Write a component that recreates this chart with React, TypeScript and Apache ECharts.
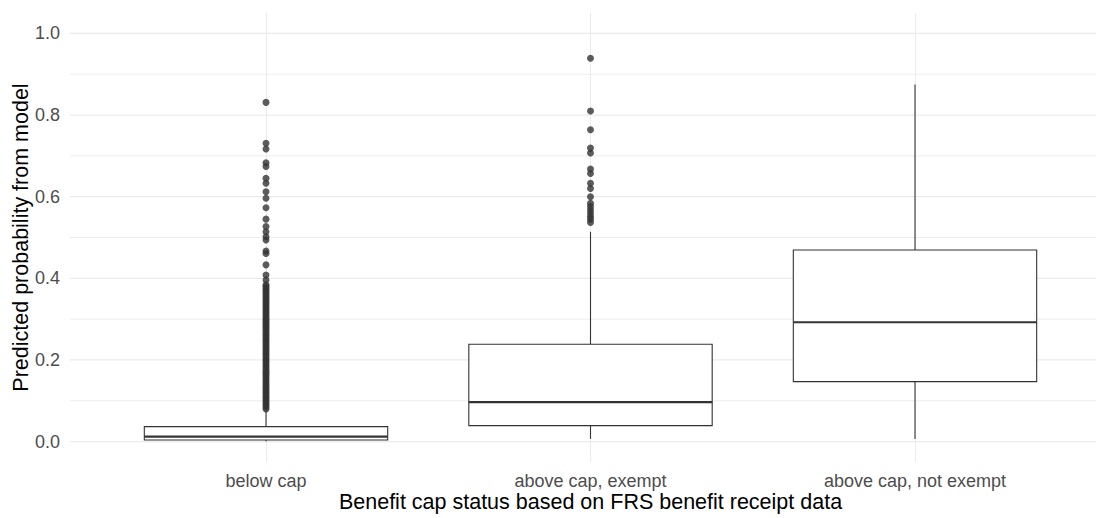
import React, { useEffect, useRef } from "react";
import * as echarts from "echarts";

const CATEGORIES = ["below cap", "above cap, exempt", "above cap, not exempt"];
const WHISKER_LOW = [0.001, 0.0066, 0.0066];
const Q1 = [0.004, 0.039, 0.147];
const MEDIAN = [0.012, 0.0965, 0.2924];
const Q3 = [0.0367, 0.2386, 0.4695];
const WHISKER_HIGH = [0.078, 0.514, 0.875];

const OUTLIERS_BELOW_CAP = [
  0.08, 0.085, 0.09, 0.095, 0.1, 0.105, 0.11, 0.115, 0.12, 0.125, 0.13, 0.135,
  0.14, 0.145, 0.15, 0.155, 0.16, 0.165, 0.17, 0.175, 0.18, 0.185, 0.19, 0.195,
  0.2, 0.205, 0.21, 0.215, 0.22, 0.225, 0.23, 0.235, 0.24, 0.245, 0.25, 0.255,
  0.26, 0.265, 0.27, 0.275, 0.28, 0.285, 0.29, 0.295, 0.3, 0.305, 0.31, 0.315,
  0.32, 0.325, 0.33, 0.335, 0.34, 0.345, 0.35, 0.355, 0.36, 0.365, 0.37, 0.375,
  0.38, 0.384, 0.396, 0.408, 0.433, 0.461, 0.467, 0.494, 0.502, 0.514, 0.527,
  0.545, 0.573, 0.596, 0.612, 0.633, 0.645, 0.674, 0.683, 0.717, 0.731, 0.831,
];
const OUTLIERS_EXEMPT = [
  0.537, 0.545, 0.552, 0.56, 0.568, 0.576, 0.584, 0.6, 0.62, 0.633, 0.657, 0.668,
  0.707, 0.719, 0.764, 0.81, 0.939,
];
const OUTLIERS_NOT_EXEMPT: number[] = [];

const Y_MIN = -0.05;
const Y_MAX = 1.05;
const Y_MAJOR = [0, 0.2, 0.4, 0.6, 0.8, 1.0];
const Y_MINOR = [0.1, 0.3, 0.5, 0.7, 0.9];

export default function App() {
  const ref = useRef<HTMLDivElement>(null);

  useEffect(() => {
    if (!ref.current) return;
    const chart = echarts.init(ref.current, null, { renderer: "svg" });

    const boxData = CATEGORIES.map((_, i) => [
      i,
      WHISKER_LOW[i],
      Q1[i],
      MEDIAN[i],
      Q3[i],
      WHISKER_HIGH[i],
    ]);
    const outlierData = [
      ...OUTLIERS_BELOW_CAP.map((v) => [0, v]),
      ...OUTLIERS_EXEMPT.map((v) => [1, v]),
      ...OUTLIERS_NOT_EXEMPT.map((v) => [2, v]),
    ];
    const gridLineData = [
      ...Y_MAJOR.map((v) => [0, v, 1]),
      ...Y_MINOR.map((v) => [0, v, 0]),
    ];

    const option: any = {
      animation: false,
      backgroundColor: "#ffffff",
      textStyle: { fontFamily: "'Liberation Sans', Arial, sans-serif" },
      grid: [
        { left: 70, right: 0, top: 13, height: 449, outerBoundsMode: "none" },
        { left: 266, right: 181, top: 13, height: 449, outerBoundsMode: "none" },
      ],
      xAxis: [
        { type: "value", gridIndex: 0, min: 0, max: 1, show: false },
        {
          type: "category",
          gridIndex: 1,
          data: CATEGORIES,
          boundaryGap: false,
          axisLine: { show: false },
          axisTick: { show: false },
          axisLabel: { color: "#4D4D4D", fontSize: 18, lineHeight: 18, margin: 10 },
          splitLine: { show: true, lineStyle: { color: "#EBEBEB", width: 1 } },
          name: "Benefit cap status based on FRS benefit receipt data",
          nameLocation: "middle",
          nameGap: 29,
          nameMoveOverlap: false,
          nameTextStyle: { color: "#000000", fontSize: 21.5, lineHeight: 22 },
        },
      ],
      yAxis: [
        {
          type: "value",
          gridIndex: 0,
          min: Y_MIN,
          max: Y_MAX,
          axisLine: { show: false },
          axisTick: { show: false },
          splitLine: { show: false },
          axisLabel: {
            customValues: Y_MAJOR,
            formatter: (v: number) => v.toFixed(1),
            color: "#4D4D4D",
            fontSize: 18,
            margin: 10,
          },
          name: "Predicted probability from model",
          nameLocation: "middle",
          nameGap: 38,
          nameRotate: 90,
          nameMoveOverlap: false,
          nameTextStyle: { color: "#000000", fontSize: 21.5 },
        },
        {
          type: "value",
          gridIndex: 1,
          min: Y_MIN,
          max: Y_MAX,
          show: false,
          splitLine: { show: false },
        },
      ],
      series: [
        {
          type: "custom",
          xAxisIndex: 0,
          yAxisIndex: 0,
          z: 0,
          silent: true,
          data: gridLineData,
          encode: { x: 0, y: 1 },
          renderItem: (params: any, api: any) => {
            const v = api.value(1);
            const p1 = api.coord([0, v]);
            const p2 = api.coord([1, v]);
            return {
              type: "line",
              shape: { x1: p1[0], y1: p1[1], x2: p2[0] + 20, y2: p2[1] },
              style: { stroke: "#EBEBEB", lineWidth: api.value(2) ? 1.2 : 0.9 },
            };
          },
        },
        {
          type: "custom",
          xAxisIndex: 1,
          yAxisIndex: 1,
          z: 3,
          data: boxData,
          encode: { x: 0, y: [1, 2, 3, 4, 5] },
          renderItem: (params: any, api: any) => {
            const i = api.value(0);
            const low = api.coord([i, api.value(1)]);
            const q1 = api.coord([i, api.value(2)]);
            const med = api.coord([i, api.value(3)]);
            const q3 = api.coord([i, api.value(4)]);
            const high = api.coord([i, api.value(5)]);
            const bw = api.size([1, 0])[0] * 0.75;
            const x = low[0];
            const lineStyle = { stroke: "#333333", lineWidth: 1.1 };
            return {
              type: "group",
              children: [
                { type: "line", shape: { x1: x, y1: high[1], x2: x, y2: q3[1] }, style: lineStyle },
                { type: "line", shape: { x1: x, y1: q1[1], x2: x, y2: low[1] }, style: lineStyle },
                {
                  type: "rect",
                  shape: { x: x - bw / 2, y: q3[1], width: bw, height: q1[1] - q3[1] },
                  style: { fill: "#ffffff", stroke: "#333333", lineWidth: 1.1 },
                },
                {
                  type: "line",
                  shape: { x1: x - bw / 2, y1: med[1], x2: x + bw / 2, y2: med[1] },
                  style: { stroke: "#333333", lineWidth: 2.2 },
                },
              ],
            };
          },
        },
        {
          type: "scatter",
          xAxisIndex: 1,
          yAxisIndex: 1,
          z: 4,
          symbol: "circle",
          symbolSize: 7,
          itemStyle: { color: "#333333" },
          data: outlierData,
        },
      ],
    };

    chart.setOption(option);
    return () => chart.dispose();
  }, []);

  return (
    <div
      ref={ref}
      style={{ position: "absolute", left: 0, top: 0, width: 1096, height: 518 }}
    />
  );
}
